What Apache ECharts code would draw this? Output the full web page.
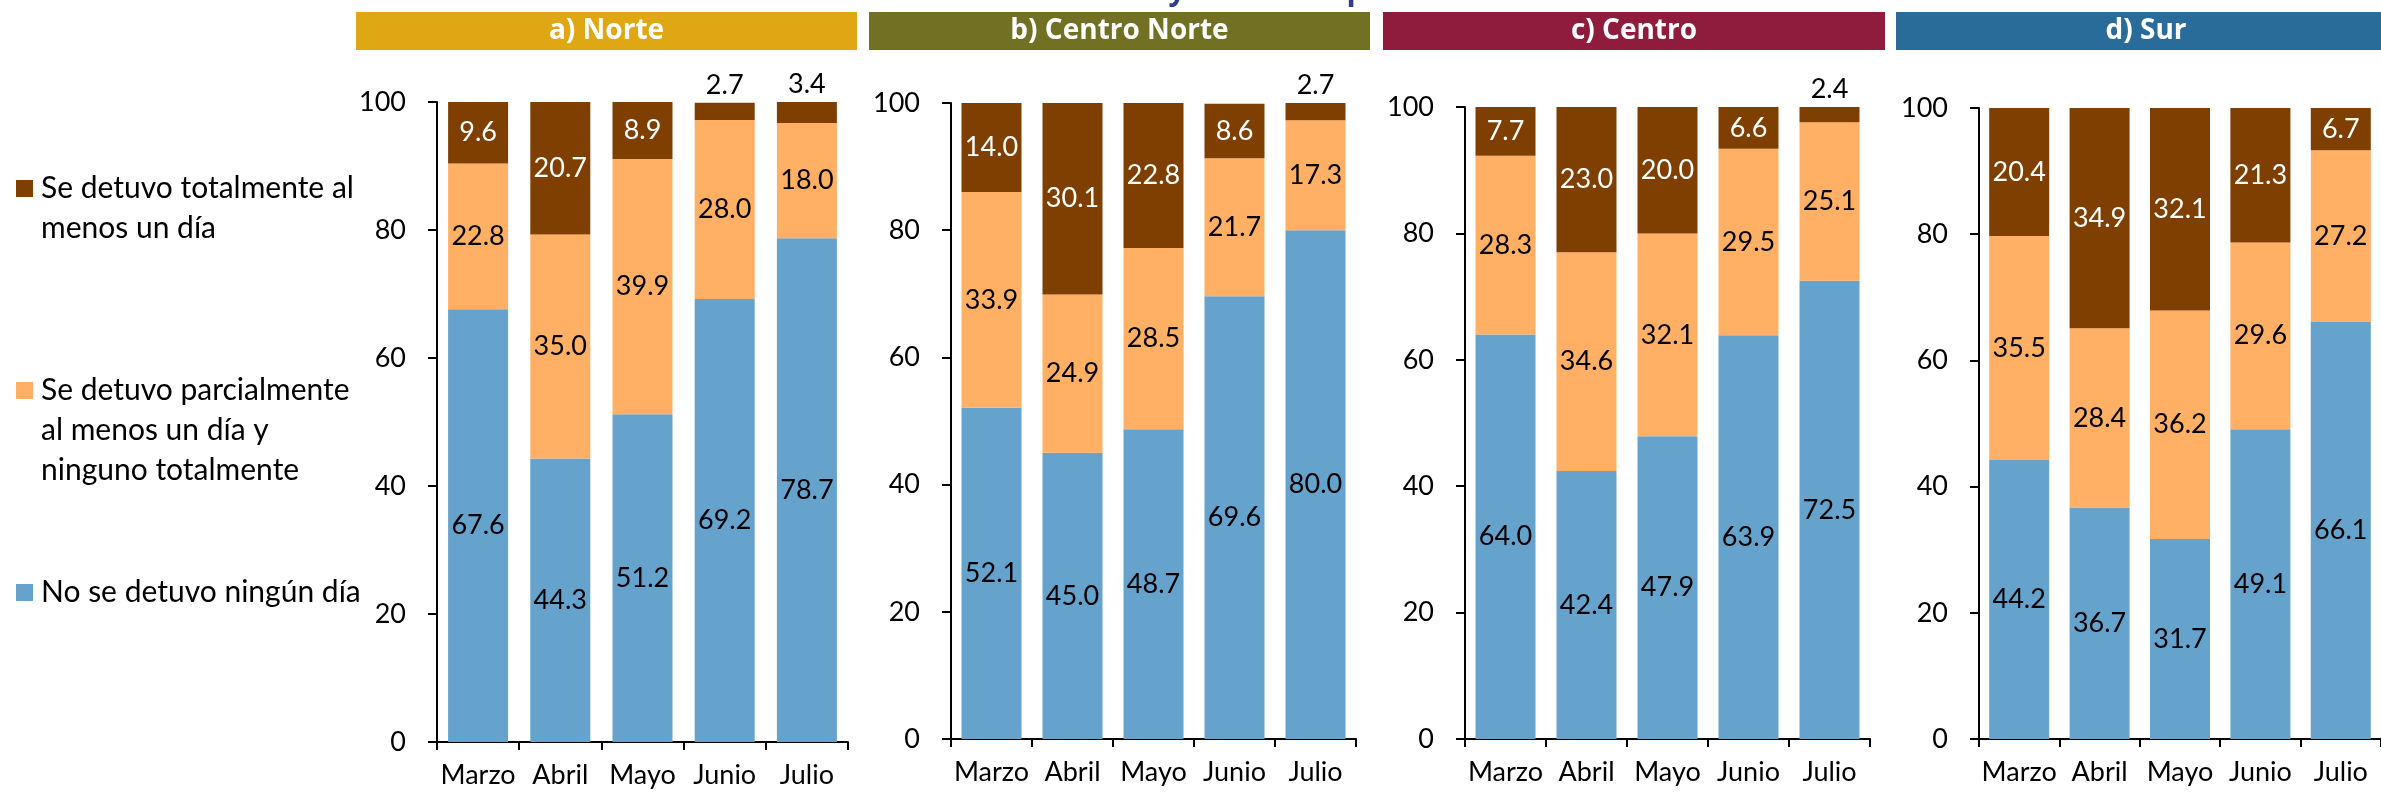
<!DOCTYPE html>
<html lang="es">
<head>
    <meta charset="UTF-8">
    <title>Paro de actividades por región</title>
    <style>
        html, body { margin: 0; padding: 0; background: #fff; }
        #main { width: 2381px; height: 794px; }
    </style>
</head>
<body>
<div id="main"></div>

<script src="https://cdn.jsdelivr.net/npm/echarts@6/dist/echarts.min.js"></script>
<script>
    // meses y regiones
    var meses = ['Marzo', 'Abril', 'Mayo', 'Junio', 'Julio'];
    var regiones = ['a) Norte', 'b) Centro Norte', 'c) Centro', 'd) Sur'];
    var nombres = [
        'No se detuvo ningún día',
        'Se detuvo parcialmente al menos un día y ninguno totalmente',
        'Se detuvo totalmente al menos un día'
    ];

    // una fila por región (Norte, Centro Norte, Centro, Sur)
    var noSeDetuvo = [
        [67.6, 44.3, 51.2, 69.2, 78.7],
        [52.1, 45.0, 48.7, 69.6, 80.0],
        [64.0, 42.4, 47.9, 63.9, 72.5],
        [44.2, 36.7, 31.7, 49.1, 66.1]
    ];
    var parcial = [
        [22.8, 35.0, 39.9, 28.0, 18.0],
        [33.9, 24.9, 28.5, 21.7, 17.3],
        [28.3, 34.6, 32.1, 29.5, 25.1],
        [35.5, 28.4, 36.2, 29.6, 27.2]
    ];
    var total = [
        [9.6, 20.7, 8.9, 2.7, 3.4],
        [14.0, 30.1, 22.8, 8.6, 2.7],
        [7.7, 23.0, 20.0, 6.6, 2.4],
        [20.4, 34.9, 32.1, 21.3, 6.7]
    ];
    var ticksY = [0, 20, 40, 60, 80, 100];

    var colores = ['#65A3CD', '#FFB064', '#7E3F00'];
    var coloresRegion = ['#DFA713', '#727023', '#8F1C3D', '#2A6C99'];

    // posiciones de cada panel
    var grids = [
        {left: 437, top: 102, width: 411, height: 640},
        {left: 951, top: 103, width: 405, height: 636},
        {left: 1465, top: 107, width: 405, height: 632},
        {left: 1979, top: 108, width: 404, height: 631}
    ];
    var bandas = [
        {x: 356, w: 501},
        {x: 869, w: 501},
        {x: 1383, w: 502},
        {x: 1896, w: 500}
    ];

    var fuente = 'Lato';

    var xAxis = [], yAxis = [], series = [], graphic = [];

    for (var g = 0; g < 4; g++) {
        xAxis.push({
            type: 'category',
            gridIndex: g,
            data: meses,
            axisLine: {lineStyle: {color: '#000', width: 2}},
            axisTick: {show: true, length: 8, lineStyle: {color: '#000', width: 2}},
            axisLabel: {color: '#000', fontFamily: fuente, fontSize: 27, margin: 20, interval: 0}
        });
        yAxis.push({
            type: 'value',
            gridIndex: g,
            min: ticksY[0],
            max: ticksY[ticksY.length - 1],
            interval: 20,
            splitLine: {show: false},
            axisLine: {show: true, lineStyle: {color: '#000', width: 2}},
            axisTick: {show: true, length: 9, lineStyle: {color: '#000', width: 2}},
            axisLabel: {color: '#000', fontFamily: fuente, fontSize: 27, margin: 31}
        });

        var grupos = [noSeDetuvo[g], parcial[g], total[g]];
        for (var s = 0; s < 3; s++) {
            var datos = grupos[s].map(function (v) {
                var item = {value: v};
                if (v < 5) {
                    item.label = {position: 'top', color: '#000', distance: 4};
                }
                return item;
            });
            series.push({
                name: nombres[s],
                type: 'bar',
                xAxisIndex: g,
                yAxisIndex: g,
                stack: 'r' + g,
                barWidth: 60,
                data: datos,
                itemStyle: {color: colores[s]},
                label: {
                    show: true,
                    position: 'inside',
                    color: s === 2 ? '#fff' : '#000',
                    fontFamily: fuente,
                    fontSize: 27,
                    formatter: function (p) { return p.value.toFixed(1); }
                },
                emphasis: {disabled: true}
            });
        }

        // banda de título de la región
        graphic.push({
            type: 'group',
            left: bandas[g].x,
            top: 12,
            children: [
                {type: 'rect', shape: {x: 0, y: 0, width: bandas[g].w, height: 38}, style: {fill: coloresRegion[g]}},
                {type: 'text', x: bandas[g].w / 2, y: 19, style: {
                    text: regiones[g], fill: '#fff', font: 'bold 28px "Open Sans"',
                    align: 'center', verticalAlign: 'middle'
                }}
            ]
        });
    }

    // leyenda a la izquierda
    var leyenda = [
        {color: colores[2], top: 168, text: 'Se detuvo totalmente al\nmenos un día'},
        {color: colores[1], top: 370, text: 'Se detuvo parcialmente\nal menos un día y\nninguno totalmente'},
        {color: colores[0], top: 572, text: 'No se detuvo ningún día'}
    ];
    leyenda.forEach(function (l) {
        graphic.push({type: 'rect', shape: {x: 16, y: l.top + 12, width: 17, height: 17}, style: {fill: l.color}});
        graphic.push({type: 'text', x: 41, y: l.top, style: {
            text: l.text, fill: '#000', font: '30px Lato', lineHeight: 40, verticalAlign: 'top'
        }});
    });

    // restos del título cortado arriba
    graphic.push({type: 'text', x: 1177, y: -9, style: {text: 'y', fill: '#2F3E8E', font: 'bold 30px "Open Sans"', align: 'center', verticalAlign: 'middle'}});
    graphic.push({type: 'text', x: 1356, y: -9, style: {text: 'p', fill: '#2F3E8E', font: 'bold 30px "Open Sans"', align: 'center', verticalAlign: 'middle'}});

    var myChart = echarts.init(document.getElementById('main'));
    var option = {
        animation: false,
        backgroundColor: '#fff',
        grid: grids,
        xAxis: xAxis,
        yAxis: yAxis,
        series: series,
        graphic: graphic
    };
    myChart.setOption(option);
</script>
</body>
</html>
